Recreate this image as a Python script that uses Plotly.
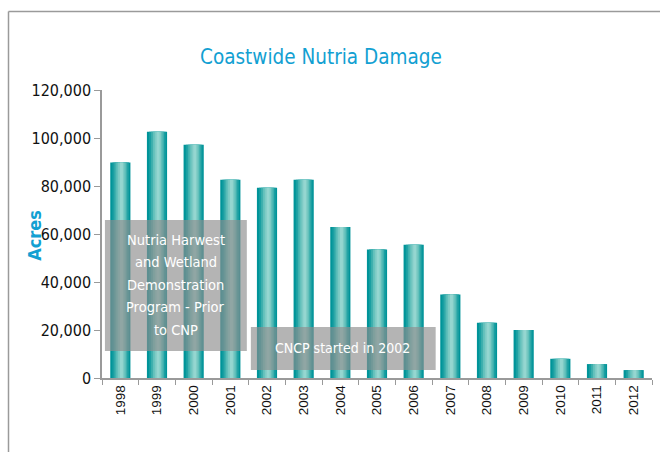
import plotly.graph_objects as go

years = ["1998", "1999", "2000", "2001", "2002", "2003", "2004", "2005",
         "2006", "2007", "2008", "2009", "2010", "2011", "2012"]
acres = [89800, 102600, 97200, 82600, 79300, 82600, 62900, 53500,
         55500, 34800, 23000, 20000, 8000, 5800, 3300]

title_text = "Coastwide Nutria Damage"
y_title = "Acres"
note1_lines = ["Nutria Harwest", "and Wetland", "Demonstration", "Program - Prior", "to CNP"]
note2 = "CNCP started in 2002"

COND = "DejaVu Sans Condensed, Liberation Sans Narrow, sans-serif"
BLUE = "#12a0d2"
GRAY = "#9a9a9a"

fig = go.Figure()

# layered bars to imitate horizontal gradient (dark edges, light centre)
layers = [
    (0.55, "#009499", 0.0),
    (0.45, "#1a9fa2", 0.01),
    (0.35, "#3fb0ae", 0.015),
    (0.26, "#62c0bb", 0.02),
    (0.17, "#7ecbc5", 0.025),
    (0.08, "#95d6d0", 0.03),
]
for w, c, off in layers:
    fig.add_trace(go.Bar(
        x=years, y=acres, width=w, offset=-w / 2 + off,
        marker=dict(color=c, line=dict(width=0)),
        hoverinfo="skip", showlegend=False,
    ))

fig.update_layout(
    barmode="overlay",
    width=660, height=452,
    margin=dict(l=102, r=8, t=90, b=74, autoexpand=False),
    paper_bgcolor="white", plot_bgcolor="white",
    showlegend=False,
)

fig.update_xaxes(
    type="category", range=[-0.5, 14.5],
    tickson="boundaries", ticks="outside", ticklen=5, tickcolor=GRAY,
    tickangle=-90,
    tickfont=dict(family="Liberation Sans, Arial, sans-serif", size=13.5, color="#111"),
    showline=True, linecolor=GRAY, linewidth=1.5,
    showgrid=False, zeroline=False, automargin=False,
)
fig.update_yaxes(
    range=[0, 120000], dtick=20000, tickformat=",",
    ticks="outside", ticklen=6, tickcolor=GRAY,
    tickfont=dict(family=COND, size=16, color="#111"),
    showline=True, linecolor=GRAY, linewidth=1.5,
    showgrid=False, zeroline=False, automargin=False,
)

# overlay boxes
fig.add_shape(type="rect", xref="x", yref="y", x0=-0.42, x1=3.45, y0=11250, y1=65800,
              fillcolor="rgba(141,141,141,0.66)", line=dict(width=0), layer="above")
fig.add_shape(type="rect", xref="x", yref="y", x0=3.56, x1=8.6, y0=3300, y1=21250,
              fillcolor="rgba(141,141,141,0.66)", line=dict(width=0), layer="above")

# frame lines
fig.add_shape(type="line", xref="paper", yref="paper", x0=-0.1700, x1=-0.1700,
              y0=1.2725, y1=-0.3, line=dict(color=GRAY, width=1.5))
fig.add_shape(type="line", xref="paper", yref="paper", x0=-0.1700, x1=1.1,
              y0=1.2725, y1=1.2725, line=dict(color=GRAY, width=1.5))

# note 1: one annotation per line to control line spacing
line_y = [57600, 48200, 38900, 29600, 20200]
for txt, yy in zip(note1_lines, line_y):
    fig.add_annotation(text=txt, xref="x", yref="y", x=1.515, y=yy,
                       showarrow=False, align="center", yanchor="middle",
                       font=dict(family=COND, size=14.5, color="white"))
fig.add_annotation(text=note2, xref="x", yref="y", x=6.07, y=12300,
                   showarrow=False, align="center",
                   font=dict(family=COND, size=14, color="white"))

fig.add_annotation(text=title_text, xref="paper", yref="paper", x=0.398, y=1.1146,
                   showarrow=False, xanchor="center", yanchor="middle",
                   font=dict(family=COND, size=20.5, color=BLUE))
fig.add_annotation(text="<b>" + y_title + "</b>", xref="paper", yref="paper", x=-0.122, y=0.497,
                   showarrow=False, textangle=-90, xanchor="center", yanchor="middle",
                   font=dict(family=COND, size=18, color=BLUE))

fig.write_html("out.html", config={"displayModeBar": False},
               post_script="document.body.style.margin='0';")
